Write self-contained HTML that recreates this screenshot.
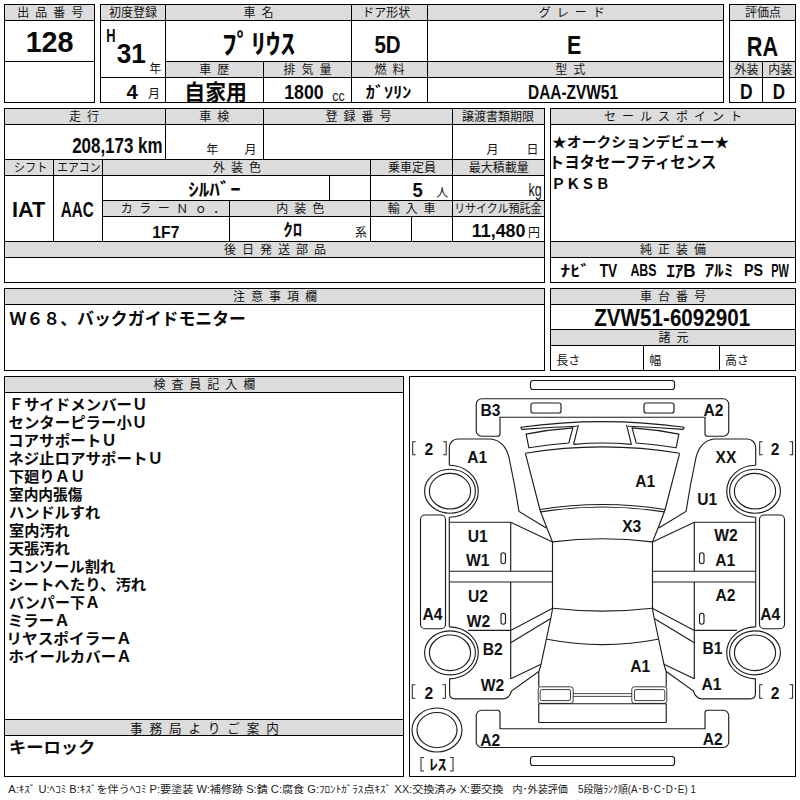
<!DOCTYPE html>
<html lang="ja"><head><meta charset="utf-8"><title>Auction sheet 128</title>
<style>
html,body{margin:0;padding:0;background:#fff}
body{width:800px;height:800px;overflow:hidden;position:relative;font-family:"Liberation Sans",sans-serif}
#sheet{position:absolute;left:0;top:0;width:800px;height:800px;background:#fff;overflow:hidden}
.f{position:absolute}
.l{position:absolute;background:#000}
.d{position:absolute;font-family:"Liberation Sans",sans-serif;font-weight:bold;color:#111;white-space:nowrap;line-height:1;transform-origin:0 0}
#ov{position:absolute;left:0;top:0;width:800px;height:800px}
</style></head><body>
<div id="sheet">
<div class="f" style="left:4px;top:4px;width:90px;height:16px;background:#dcdcdc"></div>
<div class="l" style="left:4px;top:4px;width:91px;height:1px"></div>
<div class="l" style="left:4px;top:102px;width:91px;height:1px"></div>
<div class="l" style="left:4px;top:4px;width:1px;height:99px"></div>
<div class="l" style="left:94px;top:4px;width:1px;height:99px"></div>
<div class="l" style="left:4px;top:20px;width:91px;height:1px"></div>
<div class="l" style="left:4px;top:61px;width:91px;height:1px"></div>
<div class="f" style="left:100px;top:4px;width:623px;height:16px;background:#dcdcdc"></div>
<div class="f" style="left:165px;top:61px;width:558px;height:16px;background:#dcdcdc"></div>
<div class="l" style="left:100px;top:4px;width:624px;height:1px"></div>
<div class="l" style="left:100px;top:102px;width:624px;height:1px"></div>
<div class="l" style="left:100px;top:4px;width:1px;height:99px"></div>
<div class="l" style="left:723px;top:4px;width:1px;height:99px"></div>
<div class="l" style="left:100px;top:20px;width:624px;height:1px"></div>
<div class="l" style="left:165px;top:61px;width:559px;height:1px"></div>
<div class="l" style="left:100px;top:77px;width:624px;height:1px"></div>
<div class="l" style="left:165px;top:4px;width:1px;height:99px"></div>
<div class="l" style="left:263px;top:61px;width:1px;height:42px"></div>
<div class="l" style="left:351px;top:4px;width:1px;height:99px"></div>
<div class="l" style="left:427px;top:4px;width:1px;height:99px"></div>
<div class="f" style="left:729px;top:4px;width:66px;height:16px;background:#dcdcdc"></div>
<div class="f" style="left:729px;top:61px;width:66px;height:16px;background:#dcdcdc"></div>
<div class="l" style="left:729px;top:4px;width:67px;height:1px"></div>
<div class="l" style="left:729px;top:102px;width:67px;height:1px"></div>
<div class="l" style="left:729px;top:4px;width:1px;height:99px"></div>
<div class="l" style="left:795px;top:4px;width:1px;height:99px"></div>
<div class="l" style="left:729px;top:20px;width:67px;height:1px"></div>
<div class="l" style="left:729px;top:61px;width:67px;height:1px"></div>
<div class="l" style="left:729px;top:77px;width:67px;height:1px"></div>
<div class="l" style="left:762px;top:61px;width:1px;height:42px"></div>
<div class="f" style="left:4px;top:108px;width:540px;height:16px;background:#dcdcdc"></div>
<div class="f" style="left:4px;top:159px;width:540px;height:16px;background:#dcdcdc"></div>
<div class="f" style="left:102px;top:200px;width:442px;height:16px;background:#dcdcdc"></div>
<div class="f" style="left:4px;top:241px;width:540px;height:16px;background:#dcdcdc"></div>
<div class="l" style="left:4px;top:108px;width:541px;height:1px"></div>
<div class="l" style="left:4px;top:282px;width:541px;height:1px"></div>
<div class="l" style="left:4px;top:108px;width:1px;height:175px"></div>
<div class="l" style="left:544px;top:108px;width:1px;height:175px"></div>
<div class="l" style="left:4px;top:124px;width:541px;height:1px"></div>
<div class="l" style="left:4px;top:159px;width:541px;height:1px"></div>
<div class="l" style="left:4px;top:175px;width:541px;height:1px"></div>
<div class="l" style="left:102px;top:200px;width:443px;height:1px"></div>
<div class="l" style="left:102px;top:216px;width:443px;height:1px"></div>
<div class="l" style="left:4px;top:241px;width:541px;height:1px"></div>
<div class="l" style="left:4px;top:257px;width:541px;height:1px"></div>
<div class="l" style="left:165px;top:108px;width:1px;height:52px"></div>
<div class="l" style="left:263px;top:108px;width:1px;height:52px"></div>
<div class="l" style="left:452px;top:108px;width:1px;height:134px"></div>
<div class="l" style="left:53px;top:159px;width:1px;height:83px"></div>
<div class="l" style="left:102px;top:159px;width:1px;height:83px"></div>
<div class="l" style="left:370px;top:159px;width:1px;height:83px"></div>
<div class="l" style="left:329px;top:175px;width:1px;height:26px"></div>
<div class="l" style="left:229px;top:200px;width:1px;height:42px"></div>
<div class="l" style="left:411px;top:216px;width:1px;height:26px"></div>
<div class="f" style="left:550px;top:108px;width:245px;height:16px;background:#dcdcdc"></div>
<div class="f" style="left:550px;top:241px;width:245px;height:16px;background:#dcdcdc"></div>
<div class="l" style="left:550px;top:108px;width:246px;height:1px"></div>
<div class="l" style="left:550px;top:282px;width:246px;height:1px"></div>
<div class="l" style="left:550px;top:108px;width:1px;height:175px"></div>
<div class="l" style="left:795px;top:108px;width:1px;height:175px"></div>
<div class="l" style="left:550px;top:124px;width:246px;height:1px"></div>
<div class="l" style="left:550px;top:241px;width:246px;height:1px"></div>
<div class="l" style="left:550px;top:257px;width:246px;height:1px"></div>
<div class="f" style="left:4px;top:288px;width:540px;height:16px;background:#dcdcdc"></div>
<div class="l" style="left:4px;top:288px;width:541px;height:1px"></div>
<div class="l" style="left:4px;top:370px;width:541px;height:1px"></div>
<div class="l" style="left:4px;top:288px;width:1px;height:83px"></div>
<div class="l" style="left:544px;top:288px;width:1px;height:83px"></div>
<div class="l" style="left:4px;top:304px;width:541px;height:1px"></div>
<div class="f" style="left:550px;top:288px;width:245px;height:16px;background:#dcdcdc"></div>
<div class="f" style="left:550px;top:329px;width:245px;height:16px;background:#dcdcdc"></div>
<div class="l" style="left:550px;top:288px;width:246px;height:1px"></div>
<div class="l" style="left:550px;top:370px;width:246px;height:1px"></div>
<div class="l" style="left:550px;top:288px;width:1px;height:83px"></div>
<div class="l" style="left:795px;top:288px;width:1px;height:83px"></div>
<div class="l" style="left:550px;top:304px;width:246px;height:1px"></div>
<div class="l" style="left:550px;top:329px;width:246px;height:1px"></div>
<div class="l" style="left:550px;top:345px;width:246px;height:1px"></div>
<div class="l" style="left:643px;top:345px;width:1px;height:26px"></div>
<div class="l" style="left:719px;top:345px;width:1px;height:26px"></div>
<div class="f" style="left:4px;top:376px;width:399px;height:16px;background:#dcdcdc"></div>
<div class="f" style="left:4px;top:719px;width:399px;height:16px;background:#dcdcdc"></div>
<div class="l" style="left:4px;top:376px;width:400px;height:1px"></div>
<div class="l" style="left:4px;top:776px;width:400px;height:1px"></div>
<div class="l" style="left:4px;top:376px;width:1px;height:401px"></div>
<div class="l" style="left:403px;top:376px;width:1px;height:401px"></div>
<div class="l" style="left:4px;top:392px;width:400px;height:1px"></div>
<div class="l" style="left:4px;top:719px;width:400px;height:1px"></div>
<div class="l" style="left:4px;top:735px;width:400px;height:1px"></div>
<div class="l" style="left:409px;top:376px;width:387px;height:1px"></div>
<div class="l" style="left:409px;top:776px;width:387px;height:1px"></div>
<div class="l" style="left:409px;top:376px;width:1px;height:401px"></div>
<div class="l" style="left:795px;top:376px;width:1px;height:401px"></div>
<svg id="ov" width="800" height="800" viewBox="0 0 800 800">
<g font-family="'Liberation Sans', 'Noto Sans CJK JP', sans-serif" font-size="12" fill="#141414">
<text x="17.15" y="17" textLength="66">出 品 番 号</text>
<text x="108.94" y="17">初度登録</text>
<text x="243.40" y="17" textLength="30">車 名</text>
<text x="362.15" y="17">ドア形状</text>
<text x="538.72" y="17" textLength="66">グ レ ー ド</text>
<text x="745.06" y="17">評価点</text>
<text x="199.37" y="74" textLength="30">車 歴</text>
<text x="283.48" y="74" textLength="48">排 気 量</text>
<text x="374.55" y="74" textLength="30">燃 料</text>
<text x="555.26" y="74" textLength="30">型 式</text>
<text x="734.44" y="74">外装</text>
<text x="768.22" y="74">内装</text>
<text x="69.03" y="121" textLength="30">走 行</text>
<text x="199.27" y="121" textLength="30">車 検</text>
<text x="325.57" y="121" textLength="66">登 録 番 号</text>
<text x="462.01" y="121">譲渡書類期限</text>
<text x="604.06" y="121" textLength="138">セ ー ル ス ポ イ ン ト</text>
<text x="13.75" y="172" textLength="33.9" lengthAdjust="spacingAndGlyphs">シフト</text>
<text x="57.27" y="172" textLength="43.2" lengthAdjust="spacingAndGlyphs">エアコン</text>
<text x="213.00" y="172" textLength="48">外 装 色</text>
<text x="388.12" y="172">乗車定員</text>
<text x="468.72" y="172">最大積載量</text>
<text x="120.76" y="213" textLength="104.4">カ ラ ー Ｎ ｏ ．</text>
<text x="276.27" y="213" textLength="48">内 装 色</text>
<text x="387.63" y="213" textLength="48">輸 入 車</text>
<text x="454.14" y="213" textLength="87.3" lengthAdjust="spacingAndGlyphs">リサイクル預託金</text>
<text x="223.98" y="254" textLength="102">後 日 発 送 部 品</text>
<text x="640.06" y="254" textLength="66">純 正 装 備</text>
<text x="233.04" y="301" textLength="84">注 意 事 項 欄</text>
<text x="639.95" y="301" textLength="66">車 台 番 号</text>
<text x="658.54" y="342" textLength="30">諸 元</text>
<text x="153.38" y="389" textLength="102">検 査 員 記 入 欄</text>
<text x="130.03" y="732.64" font-size="12.6" textLength="148.8">事 務 局 よ り ご 案 内</text>
<text x="149.16" y="73">年</text>
<text x="148.11" y="98">月</text>
<text x="206.16" y="153.5">年</text>
<text x="244.61" y="153.5">月</text>
<text x="486.61" y="154">月</text>
<text x="526.58" y="154">日</text>
<text x="332.21" y="100.83" font-size="15" textLength="12.4" lengthAdjust="spacingAndGlyphs">cc</text>
<text x="436.17" y="197">人</text>
<text x="528.61" y="196.18" font-size="18" textLength="13.2" lengthAdjust="spacingAndGlyphs">kg</text>
<text x="528.01" y="237">円</text>
<text x="355.04" y="237">系</text>
<text x="556.34" y="364.5">長さ</text>
<text x="649.21" y="364.5">幅</text>
<text x="725.10" y="364.5">高さ</text>
</g>
<g font-family="'Liberation Sans', 'Noto Sans CJK JP', sans-serif" font-weight="bold" fill="#0a0a0a">
<text x="25.64" y="52.46" font-size="30.2" textLength="47.9" lengthAdjust="spacingAndGlyphs">128</text>
<text x="106.34" y="42.33" font-size="18" textLength="9.3" lengthAdjust="spacingAndGlyphs">H</text>
<text x="116.68" y="63.24" font-size="27.9" textLength="29.2" lengthAdjust="spacingAndGlyphs">31</text>
<text x="126.61" y="98.58" font-size="20.2" textLength="11.3" lengthAdjust="spacingAndGlyphs">4</text>
<text x="221.94" y="54.26" font-size="27" textLength="73.1" lengthAdjust="spacingAndGlyphs">ﾌﾟﾘｳｽ</text>
<text x="184.32" y="100.26" font-size="21.9" textLength="62.6" lengthAdjust="spacingAndGlyphs">自家用</text>
<text x="284.23" y="99.08" font-size="20.6" textLength="39.4" lengthAdjust="spacingAndGlyphs">1800</text>
<text x="374.44" y="53.28" font-size="24.3" textLength="26.2" lengthAdjust="spacingAndGlyphs">5D</text>
<text x="365.81" y="97.69" font-size="16" textLength="45.7" lengthAdjust="spacingAndGlyphs">ｶﾞｿﾘﾝ</text>
<text x="566.98" y="54.33" font-size="25.8" textLength="14.3" lengthAdjust="spacingAndGlyphs">E</text>
<text x="528.02" y="99.33" font-size="20.7" textLength="90" lengthAdjust="spacingAndGlyphs">DAA-ZVW51</text>
<text x="746.77" y="55.83" font-size="27.8" textLength="31.3" lengthAdjust="spacingAndGlyphs">RA</text>
<text x="740.04" y="98.58" font-size="21.4" textLength="12.6" lengthAdjust="spacingAndGlyphs">D</text>
<text x="772.82" y="98.58" font-size="21.4" textLength="12.3" lengthAdjust="spacingAndGlyphs">D</text>
<text x="72.15" y="152.56" font-size="21.9" textLength="90.4" lengthAdjust="spacingAndGlyphs">208,173 km</text>
<text x="12.05" y="216.82" font-size="22.4" textLength="33.2" lengthAdjust="spacingAndGlyphs">IAT</text>
<text x="60.77" y="216.56" font-size="21.7" textLength="33" lengthAdjust="spacingAndGlyphs">AAC</text>
<text x="188.27" y="196.44" font-size="17.8" textLength="52.5" lengthAdjust="spacingAndGlyphs">ｼﾙﾊﾞｰ</text>
<text x="152.31" y="237.82" font-size="17" textLength="27.1" lengthAdjust="spacingAndGlyphs">1F7</text>
<text x="283.24" y="236.33" font-size="16.8" textLength="18.95" lengthAdjust="spacingAndGlyphs">ｸﾛ</text>
<text x="412.60" y="197.09" font-size="19.9" textLength="10.25" lengthAdjust="spacingAndGlyphs">5</text>
<text x="471.82" y="237.11" font-size="17.9" textLength="53.7" lengthAdjust="spacingAndGlyphs">11,480</text>
<text x="552.11" y="147.38" font-size="14.2" textLength="177.2" lengthAdjust="spacingAndGlyphs">★オークションデビュー★</text>
<text x="548.74" y="167.60" font-size="15.5" textLength="167.6" lengthAdjust="spacingAndGlyphs">トヨタセーフティセンス</text>
<text x="551.08" y="188.76" font-size="14" textLength="58.8" lengthAdjust="spacingAndGlyphs">ＰＫＳＢ</text>
<text x="560.24" y="276.17" font-size="14.75" textLength="30" lengthAdjust="spacingAndGlyphs">ﾅﾋﾞ</text>
<text x="599.65" y="276.50" font-size="17.5" textLength="17.5" lengthAdjust="spacingAndGlyphs">TV</text>
<text x="630.38" y="276.30" font-size="17" textLength="26.2" lengthAdjust="spacingAndGlyphs">ABS</text>
<text x="666.40" y="276.50" font-size="17.5" textLength="29.2" lengthAdjust="spacingAndGlyphs">ｴｱB</text>
<text x="704.45" y="276.09" font-size="16.25" textLength="29" lengthAdjust="spacingAndGlyphs">ｱﾙﾐ</text>
<text x="744.09" y="276.30" font-size="17" textLength="19" lengthAdjust="spacingAndGlyphs">PS</text>
<text x="771.15" y="276.50" font-size="17.5" textLength="17.65" lengthAdjust="spacingAndGlyphs">PW</text>
<text x="9.51" y="325.07" font-size="16.9" textLength="236.5" lengthAdjust="spacingAndGlyphs">Ｗ６８、バックガイドモニター</text>
<text x="594.22" y="325.82" font-size="23.8" textLength="156" lengthAdjust="spacingAndGlyphs">ZVW51-6092901</text>
<text x="8.94" y="753.38" font-size="16.4" textLength="86.4" lengthAdjust="spacingAndGlyphs">キーロック</text>
<g font-size="15">
<text x="8.48" y="409.65" textLength="139" lengthAdjust="spacingAndGlyphs">ＦサイドメンバーＵ</text>
<text x="8.51" y="427.65" textLength="138.8" lengthAdjust="spacingAndGlyphs">センターピラー小Ｕ</text>
<text x="8.05" y="445.65" textLength="108.7" lengthAdjust="spacingAndGlyphs">コアサポートＵ</text>
<text x="8.16" y="463.65" textLength="154.8" lengthAdjust="spacingAndGlyphs">ネジ止ロアサポートＵ</text>
<text x="8.70" y="481.65" textLength="76.7" lengthAdjust="spacingAndGlyphs">下廻りＡＵ</text>
<text x="8.97" y="499.65" textLength="73.4" lengthAdjust="spacingAndGlyphs">室内内張傷</text>
<text x="8.98" y="517.65" textLength="91.3" lengthAdjust="spacingAndGlyphs">ハンドルすれ</text>
<text x="8.94" y="535.65" textLength="60.9" lengthAdjust="spacingAndGlyphs">室内汚れ</text>
<text x="8.82" y="553.65" textLength="61" lengthAdjust="spacingAndGlyphs">天張汚れ</text>
<text x="8.08" y="571.65" textLength="107.2" lengthAdjust="spacingAndGlyphs">コンソール割れ</text>
<text x="8.10" y="589.65" textLength="138.2" lengthAdjust="spacingAndGlyphs">シートへたり、汚れ</text>
<text x="8.98" y="607.65" textLength="91.2" lengthAdjust="spacingAndGlyphs">バンパー下Ａ</text>
<text x="7.70" y="625.65" textLength="62" lengthAdjust="spacingAndGlyphs">ミラーＡ</text>
<text x="6.31" y="643.65" textLength="125.5" lengthAdjust="spacingAndGlyphs">リヤスポイラーＡ</text>
<text x="8.47" y="661.65" textLength="123.2" lengthAdjust="spacingAndGlyphs">ホイールカバーＡ</text>
</g>
</g>
<g font-family="'Liberation Sans', 'Noto Sans CJK JP', sans-serif" font-size="10.2" fill="#222">
<text x="8.28" y="792.76" textLength="495.2" lengthAdjust="spacingAndGlyphs">A:ｷｽﾞ U:ﾍｺﾐ B:ｷｽﾞを伴うﾍｺﾐ P:要塗装 W:補修跡 S:錆 C:腐食 G:ﾌﾛﾝﾄｶﾞﾗｽ点ｷｽﾞ XX:交換済み X:要交換</text>
<text x="512.54" y="792.76" textLength="55.3" lengthAdjust="spacingAndGlyphs">内･外装評価</text>
<text x="578.07" y="792.76" textLength="117.8" lengthAdjust="spacingAndGlyphs">5段階ﾗﾝｸ順(A･B･C･D･E) 1</text>
</g>
<g fill="none" stroke="#1c1c1c" stroke-width="1.15"><rect x="530.5" y="380.5" width="144" height="9" rx="2.5"/><rect x="530.5" y="756.5" width="144" height="9" rx="2.5"/><path d="M481.75 398.75H723.25A5.5 5.5 0 0 1 728.75 404.25V430.75A5.5 5.5 0 0 1 723.25 436.25H707.5A2.5 2.5 0 0 1 705 433.75V417.25H500V433.75A2.5 2.5 0 0 1 497.5 436.25H481.75A5.5 5.5 0 0 1 476.25 430.75V404.25A5.5 5.5 0 0 1 481.75 398.75Z"/><path d="M481.75 710.25H497.5A2.5 2.5 0 0 1 500 712.75V728.75H705V712.75A2.5 2.5 0 0 1 707.5 710.25H723.25A5.5 5.5 0 0 1 728.75 715.75V742A5.5 5.5 0 0 1 723.25 747.5H481.75A5.5 5.5 0 0 1 476.25 742V715.75A5.5 5.5 0 0 1 481.75 710.25Z"/><ellipse cx="437" cy="730" rx="25" ry="22"/><ellipse cx="437" cy="730" rx="20" ry="17.5"/><path d="M520.6 427.2Q602.5 416 684.4 427.2"/><path d="M573.6 444.4Q602.5 441.6 631.4 444.4"/><path d="M525.4 453.3Q602.5 440.5 679.6 453.3"/><path d="M540 509.5Q602.5 499.5 665 509.5"/><path d="M540.6 511.9Q602.5 502.1 664.4 511.9"/><path d="M552.5 541.9Q602.5 535.6 652.5 541.9"/><path d="M552.7 608.25Q602.5 614 652.3 608.25"/><path d="M547 639.3Q602.5 650 658 639.3"/><path d="M538.75 722.5H666.25M538.75 703.75H666.25"/><path d="M573.2 693.6H631.8M573.2 696.4H631.8" stroke-width="0.8"/><g><rect x="531" y="403" width="30" height="10" rx="2"/><ellipse cx="450" cy="491.2" rx="25.4" ry="22"/><ellipse cx="450" cy="491.2" rx="20.6" ry="17.8"/><path d="M449.3 465.2A29 26 0 0 1 449.3 517.2"/><ellipse cx="450" cy="652.8" rx="25.4" ry="22"/><ellipse cx="450" cy="652.8" rx="20.6" ry="17.8"/><path d="M449.3 626.8A29 26 0 0 1 449.3 678.8"/><rect x="420.5" y="515" width="25" height="113.75" rx="4.5"/><path d="M449.3 465.2V447.5A8.5 8.5 0 0 1 457.8 439H491Q505 441 509 457.5L514.5 485L519 511.5L546.25 528"/><path d="M449.3 517.2V626.8"/><path d="M449.3 522.25H510.7L552.5 541.9"/><path d="M510.7 522.25V571.25"/><path d="M449.3 571.25H552.5"/><path d="M449.3 582H552.5"/><path d="M510.7 582V679"/><path d="M468 630.4H510.7L552.7 608.25"/><rect x="501" y="552.75" width="4.5" height="11" rx="2.2"/><rect x="501" y="613.25" width="4.5" height="11" rx="2.2"/><path d="M510.7 642.75L550.75 618.5"/><path d="M541 664.3L510.7 678.75"/><path d="M449.6 678.8V693.5Q449.6 698.9 455 698.9H503Q509 698.9 511.8 690.8L538.75 671.5"/><path d="M525.4 453.3L540 510Q543 518 546.9 528L552.5 541.9V608.25"/><path d="M552.7 608.25L550.75 618.5L541 664.3L538.75 672V686.8M538.75 703.75V722.5"/><rect x="538.2" y="686.8" width="35" height="16.6" rx="2.5" stroke-width="0.85"/><rect x="540.2" y="689.6" width="30.3" height="11" rx="1.5" stroke-width="0.85"/><path d="M520.6 427.2L522 429.4Q550 427 577 426.2"/><path d="M578.4 424.9L573.6 444.4"/><path d="M526.1 434.1Q550 429.5 572.9 427.9L568.8 443Q548 444.5 528.9 447.8Z"/></g><g transform="translate(1205 0) scale(-1 1)"><rect x="531" y="403" width="30" height="10" rx="2"/><ellipse cx="450" cy="491.2" rx="25.4" ry="22"/><ellipse cx="450" cy="491.2" rx="20.6" ry="17.8"/><path d="M449.3 465.2A29 26 0 0 1 449.3 517.2"/><ellipse cx="450" cy="652.8" rx="25.4" ry="22"/><ellipse cx="450" cy="652.8" rx="20.6" ry="17.8"/><path d="M449.3 626.8A29 26 0 0 1 449.3 678.8"/><rect x="420.5" y="515" width="25" height="113.75" rx="4.5"/><path d="M449.3 465.2V447.5A8.5 8.5 0 0 1 457.8 439H491Q505 441 509 457.5L514.5 485L519 511.5L546.25 528"/><path d="M449.3 517.2V626.8"/><path d="M449.3 522.25H510.7L552.5 541.9"/><path d="M510.7 522.25V571.25"/><path d="M449.3 571.25H552.5"/><path d="M449.3 582H552.5"/><path d="M510.7 582V679"/><path d="M468 630.4H510.7L552.7 608.25"/><rect x="501" y="552.75" width="4.5" height="11" rx="2.2"/><rect x="501" y="613.25" width="4.5" height="11" rx="2.2"/><path d="M510.7 642.75L550.75 618.5"/><path d="M541 664.3L510.7 678.75"/><path d="M449.6 678.8V693.5Q449.6 698.9 455 698.9H503Q509 698.9 511.8 690.8L538.75 671.5"/><path d="M525.4 453.3L540 510Q543 518 546.9 528L552.5 541.9V608.25"/><path d="M552.7 608.25L550.75 618.5L541 664.3L538.75 672V686.8M538.75 703.75V722.5"/><rect x="538.2" y="686.8" width="35" height="16.6" rx="2.5" stroke-width="0.85"/><rect x="540.2" y="689.6" width="30.3" height="11" rx="1.5" stroke-width="0.85"/><path d="M520.6 427.2L522 429.4Q550 427 577 426.2"/><path d="M578.4 424.9L573.6 444.4"/><path d="M526.1 434.1Q550 429.5 572.9 427.9L568.8 443Q548 444.5 528.9 447.8Z"/></g></g>
<text x="0" y="0" transform="translate(490.50 415.50) scale(0.93 1)" text-anchor="middle" font-family="Liberation Sans, sans-serif" font-weight="700" font-size="16.8" fill="#111">B3</text>
<text x="0" y="0" transform="translate(713.50 415.75) scale(0.93 1)" text-anchor="middle" font-family="Liberation Sans, sans-serif" font-weight="700" font-size="16.8" fill="#111">A2</text>
<text x="0" y="0" transform="translate(477.25 463.00) scale(0.93 1)" text-anchor="middle" font-family="Liberation Sans, sans-serif" font-weight="700" font-size="16.8" fill="#111">A1</text>
<text x="0" y="0" transform="translate(726.00 463.00) scale(0.93 1)" text-anchor="middle" font-family="Liberation Sans, sans-serif" font-weight="700" font-size="16.8" fill="#111">XX</text>
<text x="0" y="0" transform="translate(645.25 486.75) scale(0.93 1)" text-anchor="middle" font-family="Liberation Sans, sans-serif" font-weight="700" font-size="16.8" fill="#111">A1</text>
<text x="0" y="0" transform="translate(707.25 505.00) scale(0.93 1)" text-anchor="middle" font-family="Liberation Sans, sans-serif" font-weight="700" font-size="16.8" fill="#111">U1</text>
<text x="0" y="0" transform="translate(631.75 532.00) scale(0.93 1)" text-anchor="middle" font-family="Liberation Sans, sans-serif" font-weight="700" font-size="16.8" fill="#111">X3</text>
<text x="0" y="0" transform="translate(477.75 542.00) scale(0.93 1)" text-anchor="middle" font-family="Liberation Sans, sans-serif" font-weight="700" font-size="16.8" fill="#111">U1</text>
<text x="0" y="0" transform="translate(477.75 565.50) scale(0.93 1)" text-anchor="middle" font-family="Liberation Sans, sans-serif" font-weight="700" font-size="16.8" fill="#111">W1</text>
<text x="0" y="0" transform="translate(726.00 541.25) scale(0.93 1)" text-anchor="middle" font-family="Liberation Sans, sans-serif" font-weight="700" font-size="16.8" fill="#111">W2</text>
<text x="0" y="0" transform="translate(725.25 565.50) scale(0.93 1)" text-anchor="middle" font-family="Liberation Sans, sans-serif" font-weight="700" font-size="16.8" fill="#111">A1</text>
<text x="0" y="0" transform="translate(478.00 601.50) scale(0.93 1)" text-anchor="middle" font-family="Liberation Sans, sans-serif" font-weight="700" font-size="16.8" fill="#111">U2</text>
<text x="0" y="0" transform="translate(478.50 626.50) scale(0.93 1)" text-anchor="middle" font-family="Liberation Sans, sans-serif" font-weight="700" font-size="16.8" fill="#111">W2</text>
<text x="0" y="0" transform="translate(725.50 600.50) scale(0.93 1)" text-anchor="middle" font-family="Liberation Sans, sans-serif" font-weight="700" font-size="16.8" fill="#111">A2</text>
<text x="0" y="0" transform="translate(432.50 619.50) scale(0.93 1)" text-anchor="middle" font-family="Liberation Sans, sans-serif" font-weight="700" font-size="16.8" fill="#111">A4</text>
<text x="0" y="0" transform="translate(770.25 619.50) scale(0.93 1)" text-anchor="middle" font-family="Liberation Sans, sans-serif" font-weight="700" font-size="16.8" fill="#111">A4</text>
<text x="0" y="0" transform="translate(492.75 654.50) scale(0.93 1)" text-anchor="middle" font-family="Liberation Sans, sans-serif" font-weight="700" font-size="16.8" fill="#111">B2</text>
<text x="0" y="0" transform="translate(712.50 654.25) scale(0.93 1)" text-anchor="middle" font-family="Liberation Sans, sans-serif" font-weight="700" font-size="16.8" fill="#111">B1</text>
<text x="0" y="0" transform="translate(492.38 690.50) scale(0.93 1)" text-anchor="middle" font-family="Liberation Sans, sans-serif" font-weight="700" font-size="16.8" fill="#111">W2</text>
<text x="0" y="0" transform="translate(711.50 690.25) scale(0.93 1)" text-anchor="middle" font-family="Liberation Sans, sans-serif" font-weight="700" font-size="16.8" fill="#111">A1</text>
<text x="0" y="0" transform="translate(640.25 671.75) scale(0.93 1)" text-anchor="middle" font-family="Liberation Sans, sans-serif" font-weight="700" font-size="16.8" fill="#111">A1</text>
<text x="0" y="0" transform="translate(490.25 745.50) scale(0.93 1)" text-anchor="middle" font-family="Liberation Sans, sans-serif" font-weight="700" font-size="16.8" fill="#111">A2</text>
<text x="0" y="0" transform="translate(712.75 745.00) scale(0.93 1)" text-anchor="middle" font-family="Liberation Sans, sans-serif" font-weight="700" font-size="16.8" fill="#111">A2</text>
<text x="0" y="0" transform="translate(428.75 454.50) scale(0.93 1)" text-anchor="middle" font-family="Liberation Sans, sans-serif" font-weight="700" font-size="16.8" fill="#111">2</text>
<text x="0" y="0" transform="translate(775.00 454.50) scale(0.93 1)" text-anchor="middle" font-family="Liberation Sans, sans-serif" font-weight="700" font-size="16.8" fill="#111">2</text>
<text x="0" y="0" transform="translate(428.75 698.50) scale(0.93 1)" text-anchor="middle" font-family="Liberation Sans, sans-serif" font-weight="700" font-size="16.8" fill="#111">2</text>
<text x="0" y="0" transform="translate(775.00 698.50) scale(0.93 1)" text-anchor="middle" font-family="Liberation Sans, sans-serif" font-weight="700" font-size="16.8" fill="#111">2</text>
<path d="M415.7 441.7H412.7V454.8H415.7M443.2 441.7H446.2V454.8H443.2" fill="none" stroke="#2a2a2a" stroke-width="1.05"/>
<path d="M762.7 441.7H759.7V454.8H762.7M789.6 441.7H792.6V454.8H789.6" fill="none" stroke="#2a2a2a" stroke-width="1.05"/>
<path d="M415.3 684.7H412.3V698.3H415.3M442.4 684.7H445.4V698.3H442.4" fill="none" stroke="#2a2a2a" stroke-width="1.05"/>
<path d="M762.7 684.7H759.7V698.3H762.7M789.6 684.7H792.6V698.3H789.6" fill="none" stroke="#2a2a2a" stroke-width="1.05"/>
<path d="M424 757.5H421V771H424M450 757.5H453V771H450" fill="none" stroke="#2a2a2a" stroke-width="1.05"/>
<text x="429.17" y="769.88" font-family="'Liberation Sans', 'Noto Sans CJK JP', sans-serif" font-weight="bold" font-size="14.9" fill="#111" textLength="17.3" lengthAdjust="spacingAndGlyphs">ﾚｽ</text>
</svg>

</div>
</body></html>
